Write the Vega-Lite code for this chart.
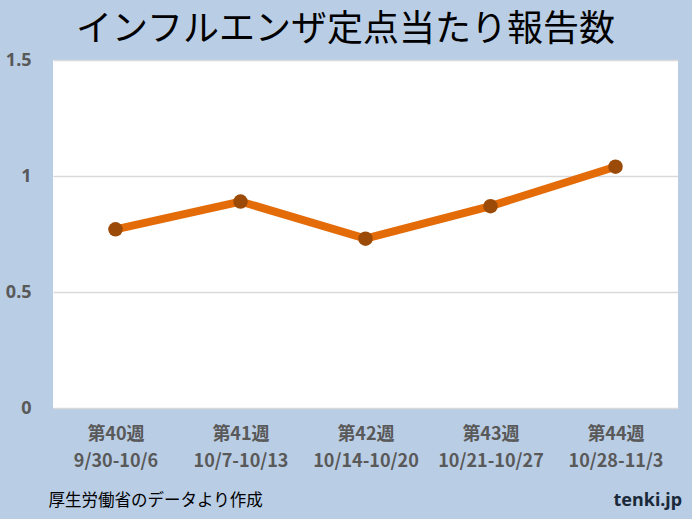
{
  "$schema": "https://vega.github.io/schema/vega-lite/v6.json",
  "width": 625,
  "height": 348,
  "autosize": {"type": "none"},
  "padding": {"left": 53, "top": 60, "right": 14, "bottom": 111},
  "background": "#b9cde5",
  "title": {
    "text": "インフルエンザ定点当たり報告数",
    "font": "Noto Sans CJK JP",
    "fontSize": 36,
    "fontWeight": "normal",
    "color": "#000000",
    "anchor": "middle",
    "dx": -20,
    "offset": 2
  },
  "data": {
    "values": [
      {"label": "第40週|9/30-10/6", "value": 0.77},
      {"label": "第41週|10/7-10/13", "value": 0.89},
      {"label": "第42週|10/14-10/20", "value": 0.73},
      {"label": "第43週|10/21-10/27", "value": 0.87},
      {"label": "第44週|10/28-11/3", "value": 1.04}
    ]
  },
  "encoding": {
    "x": {
      "field": "label",
      "type": "ordinal",
      "sort": null,
      "scale": {"type": "point", "padding": 0.5},
      "axis": {
        "title": "厚生労働省のデータより作成",
        "titleFont": "Noto Sans CJK JP",
        "titleFontSize": 16.5,
        "titleFontWeight": "normal",
        "titleColor": "#000000",
        "titleX": -5,
        "titleY": 92,
        "titleAlign": "left",
        "titleAnchor": "start",
        "titleBaseline": "middle",
        "labelExpr": "split(datum.label, '|')",
        "labelAngle": 0,
        "labelFont": "Noto Sans CJK JP",
        "labelFontSize": 18,
        "labelFontWeight": "bold",
        "labelColor": "#595959",
        "labelLineHeight": 27,
        "labelBaseline": "top",
        "labelPadding": 17,
        "domain": false,
        "ticks": false,
        "grid": false
      }
    },
    "y": {
      "field": "value",
      "type": "quantitative",
      "scale": {"domain": [0, 1.5], "nice": false},
      "axis": {
        "title": "tenki.jp",
        "titleFont": "Noto Sans",
        "titleFontSize": 18,
        "titleFontWeight": "bold",
        "titleColor": "#1a2a3a",
        "titleAngle": 0,
        "titleX": 560,
        "titleY": 440,
        "titleAlign": "left",
        "titleBaseline": "middle",
        "values": [0, 0.5, 1, 1.5],
        "format": "~g",
        "labelFont": "Noto Sans",
        "labelFontSize": 18,
        "labelFontWeight": "bold",
        "labelColor": "#595959",
        "labelPadding": 22,
        "domain": false,
        "ticks": false,
        "grid": true,
        "gridColor": "#d9d9d9",
        "gridWidth": 1.5
      }
    }
  },
  "layer": [
    {"mark": {"type": "line", "color": "#e36c09", "strokeWidth": 8}},
    {"mark": {"type": "point", "filled": true, "color": "#9c4a07", "size": 210, "opacity": 1}}
  ],
  "config": {
    "view": {"stroke": null, "fill": "#ffffff"}
  }
}
